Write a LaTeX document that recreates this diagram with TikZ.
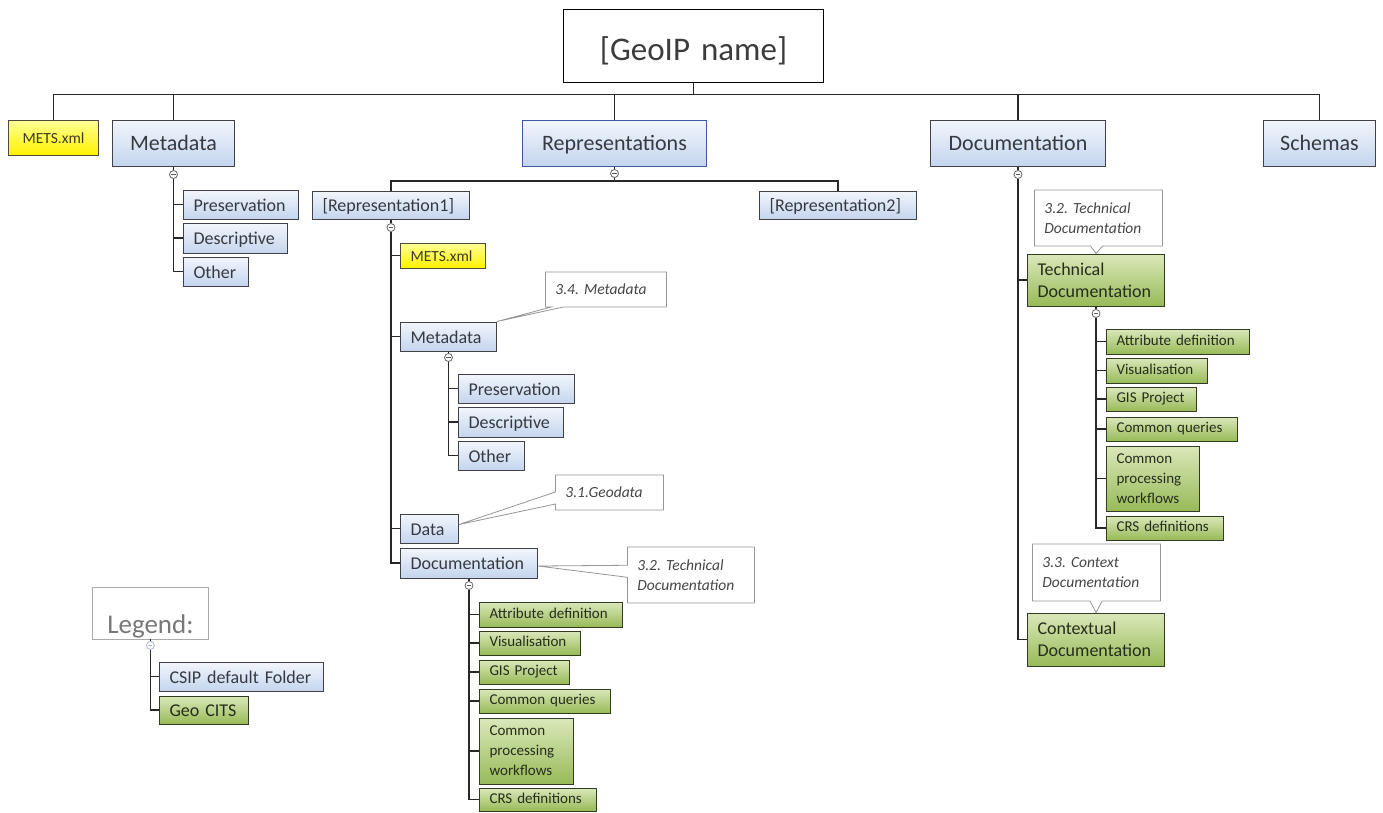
\documentclass[tikz,border=0pt]{standalone}
\usepackage{fontspec}
\setmainfont{Carlito}
\usetikzlibrary{shapes.callouts}
\definecolor{bluetop}{RGB}{242,246,252}
\definecolor{bluebot}{RGB}{196,213,238}
\definecolor{grntop}{RGB}{218,232,186}
\definecolor{grnbot}{RGB}{152,186,88}
\definecolor{yeltop}{RGB}{255,255,150}
\definecolor{yelbot}{RGB}{255,242,0}
\definecolor{bordc}{RGB}{65,65,70}
\definecolor{grnbord}{RGB}{50,60,35}
\definecolor{yelbord}{RGB}{75,75,55}
\definecolor{repbord}{RGB}{60,90,160}
\definecolor{txtc}{RGB}{55,58,65}
\definecolor{grntxt}{RGB}{38,45,28}
\definecolor{yeltxt}{RGB}{60,60,30}
\definecolor{callbord}{RGB}{150,150,150}
\definecolor{calltxt}{RGB}{70,70,70}
\definecolor{linec}{RGB}{40,40,40}
\definecolor{legtxt}{RGB}{120,120,120}
\definecolor{legbord}{RGB}{170,170,170}
\definecolor{roottxt}{RGB}{60,60,60}
\definecolor{collc}{RGB}{100,100,100}
\definecolor{collminus}{RGB}{90,90,90}
\definecolor{legcoll}{RGB}{165,185,220}
\newcommand{\mybox}[7]{%
  \pgfmathsetmacro{\mbw}{#5-#3-20}%
  \pgfmathsetmacro{\mbh}{#6-#4}%
  \pgfmathsetmacro{\mby}{(#4+#6)/2}%
  \node[inner xsep=10pt, inner ysep=0pt, text width=\mbw pt, minimum height=\mbh pt, anchor=west, #1] (#2) at (#3,\mby) {#7};}
\tikzset{
  boxbase/.style={draw=bordc, line width=1pt},
  bbox/.style={boxbase, top color=bluetop, bottom color=bluebot, text=txtc},
  gbox/.style={boxbase, draw=grnbord, top color=grntop, bottom color=grnbot, text=grntxt},
  ybox/.style={boxbase, draw=yelbord, top color=yeltop, bottom color=yelbot, text=yeltxt},
  tlone/.style={text height=17pt, text depth=1.2pt},
  tltwo/.style={text height=14.5pt, text depth=1.5pt},
  tlyel/.style={text height=12.5pt, text depth=1.5pt},
  tlgrn/.style={text height=11pt, text depth=3.4pt},
  lvlone/.style={font=\fontsize{22}{26}\selectfont, align=center, tlone},
  lvltwo/.style={font=\fontsize{18}{22}\selectfont, align=left},
  lvlthree/.style={font=\fontsize{15}{20}\selectfont, align=left},
  callbox/.style={rectangle callout, draw=callbord, fill=white, line width=0.8pt, text=calltxt,
    font=\fontsize{15.5}{20}\selectfont\itshape, align=left, callout pointer width=12pt},
  conn/.style={draw=linec, line width=1.2pt},
  collapse/.style={circle, draw=collc, fill=white, inner sep=0pt,
    minimum size=8pt, line width=0.8pt,
    path picture={\draw[line width=0.8pt,collminus]
      ([xshift=-2.2pt]path picture bounding box.center) -- ([xshift=2.2pt]path picture bounding box.center);}},
  legcollapse/.style={circle, draw=legcoll, fill=white, inner sep=0pt,
    minimum size=8pt, line width=0.8pt,
    path picture={\draw[line width=0.6pt,legcoll]
      ([xshift=-2pt]path picture bounding box.center) -- ([xshift=2pt]path picture bounding box.center);}},
}
\begin{document}
\begin{tikzpicture}[x=1pt,y=-1pt]
\useasboundingbox[fill=white] (0,0) rectangle (1383,812);

% root
\mybox{draw=black, line width=1pt, fill=white, text=roottxt, font=\fontsize{33}{38}\selectfont, align=center, text height=30pt, text depth=1pt}{root}{563}{9}{823}{82}{[GeoIP~name]}

% first level
\mybox{ybox, font=\fontsize{15.5}{20}\selectfont, align=center, tlyel}{mets0}{8}{120}{98}{155}{METS.xml}
\mybox{bbox, lvlone}{meta0}{112}{120}{234}{166}{Metadata}
\mybox{bbox, lvlone, draw=repbord}{reps}{522}{120}{706}{166}{Representations}
\mybox{bbox, lvlone}{doc0}{930}{120}{1105}{166}{Documentation}
\mybox{bbox, lvlone}{schemas}{1263}{120}{1375}{166}{Schemas}

% metadata children
\mybox{bbox, lvltwo, tltwo}{pres0}{183}{190}{298}{219}{Preservation}
\mybox{bbox, lvltwo, tltwo}{desc0}{183}{223}{287}{253}{Descriptive}
\mybox{bbox, lvltwo, tltwo}{oth0}{183}{257}{248}{286}{Other}

% representations
\mybox{bbox, lvltwo, tltwo}{rep1}{312}{191}{469}{219}{[Representation1]}
\mybox{bbox, lvltwo, tltwo}{rep2}{759}{191}{916}{219}{[Representation2]}

\mybox{ybox, font=\fontsize{15.5}{20}\selectfont, align=left, tlyel}{mets1}{400}{243}{485}{268}{METS.xml}
\mybox{bbox, lvltwo, tltwo}{meta1}{400}{322}{496}{351}{Metadata}
\mybox{bbox, lvltwo, tltwo}{pres1}{458}{374}{574}{403}{Preservation}
\mybox{bbox, lvltwo, tltwo}{desc1}{458}{407}{563}{437}{Descriptive}
\mybox{bbox, lvltwo, tltwo}{oth1}{458}{441}{524}{470}{Other}
\mybox{bbox, lvltwo, tltwo}{data1}{400}{514}{458}{543}{Data}
\mybox{bbox, lvltwo, tltwo}{doc1}{400}{548}{537}{578}{Documentation}

\mybox{gbox, lvlthree, tlgrn}{g1a}{479}{602}{622}{627}{Attribute~definition}
\mybox{gbox, lvlthree, tlgrn}{g1b}{479}{631}{580}{655}{Visualisation}
\mybox{gbox, lvlthree, tlgrn}{g1c}{479}{660}{569}{684}{GIS~Project}
\mybox{gbox, lvlthree, tlgrn}{g1d}{479}{689}{610}{713}{Common~queries}
\mybox{gbox, lvlthree}{g1e}{479}{718}{573}{784}{Common\\processing\\workflows}
\mybox{gbox, lvlthree, tlgrn}{g1f}{479}{788}{596}{811}{CRS~definitions}

% right documentation
\mybox{gbox, lvltwo}{tdoc}{1027}{254}{1164}{306}{Technical\\Documentation}
\mybox{gbox, lvltwo}{cdoc}{1027}{613}{1164}{666}{Contextual\\Documentation}
\mybox{gbox, lvlthree, tlgrn}{g2a}{1106}{329}{1249}{354}{Attribute~definition}
\mybox{gbox, lvlthree, tlgrn}{g2b}{1106}{358}{1207}{383}{Visualisation}
\mybox{gbox, lvlthree, tlgrn}{g2c}{1106}{387}{1196}{411}{GIS~Project}
\mybox{gbox, lvlthree, tlgrn}{g2d}{1106}{417}{1237}{441}{Common~queries}
\mybox{gbox, lvlthree}{g2e}{1106}{446}{1199}{511}{Common\\processing\\workflows}
\mybox{gbox, lvlthree, tlgrn}{g2f}{1106}{516}{1223}{540}{CRS~definitions}

% legend
\mybox{draw=legbord, line width=0.8pt, fill=white, text=legtxt, font=\fontsize{27}{32}\selectfont, align=center, text height=41pt, text depth=1pt}{leg}{92}{587}{208}{639}{Legend:}
\mybox{bbox, lvltwo, tltwo}{l1}{159}{662}{323}{691}{CSIP~default~Folder}
\mybox{gbox, lvltwo, tltwo}{l2}{159}{696}{248}{724}{Geo~CITS}

% collapse circles
\node[collapse] (cA) at ([yshift=-8pt]meta0.south) {};
\node[collapse] (cR) at ([yshift=-7pt]reps.south) {};
\node[collapse] (c1) at ([yshift=-8pt]rep1.south) {};
\node[collapse] (cM1) at ([yshift=-6pt]meta1.south) {};
\node[collapse] (cD1) at ([yshift=-7pt]doc1.south) {};
\node[collapse] (cD0) at ([yshift=-8pt]doc0.south) {};
\node[collapse] (cT) at ([yshift=-7pt]tdoc.south) {};
\node[legcollapse] (cL) at ([yshift=-6pt]leg.south) {};

% connectors: top level
\draw[conn] (root.south) -- ++(0,12) coordinate (busR);
\draw[conn] (busR) -| (mets0.north);
\draw[conn] (busR) -| (meta0.north);
\draw[conn] (busR) -| (reps.north);
\draw[conn] (busR) -| (doc0.north);
\draw[conn] (busR) -| (schemas.north);

% metadata
\draw[conn] (meta0.south) -- (cA.north);
\draw[conn] (cA.south) |- (pres0.west);
\draw[conn] (cA.south) |- (desc0.west);
\draw[conn] (cA.south) |- (oth0.west);

% representations
\draw[conn] (reps.south) -- (cR.north);
\draw[conn] (cR.south) -- ++(0,3) coordinate (busP);
\draw[conn] (busP) -| (rep1.north);
\draw[conn] (busP) -| (rep2.north);

\draw[conn] (rep1.south) -- (c1.north);
\draw[conn] (c1.south) |- (mets1.west);
\draw[conn] (c1.south) |- (meta1.west);
\draw[conn] (c1.south) |- (data1.west);
\draw[conn] (c1.south) |- (doc1.west);

\draw[conn] (meta1.south) -- (cM1.north);
\draw[conn] (cM1.south) |- (pres1.west);
\draw[conn] (cM1.south) |- (desc1.west);
\draw[conn] (cM1.south) |- (oth1.west);

\draw[conn] (doc1.south) -- (cD1.north);
\foreach \g in {g1a,g1b,g1c,g1d,g1e,g1f} \draw[conn] (cD1.south) |- (\g.west);

% right documentation
\draw[conn] (doc0.south) -- (cD0.north);
\draw[conn] (cD0.south) |- (tdoc.west);
\draw[conn] (cD0.south) |- (cdoc.west);
\draw[conn] (tdoc.south) -- (cT.north);
\foreach \g in {g2a,g2b,g2c,g2d,g2e,g2f} \draw[conn] (cT.south) |- (\g.west);

% legend
\draw[conn] (leg.south) -- (cL.north);
\draw[conn] (cL.south) |- (l1.west);
\draw[conn] (cL.south) |- (l2.west);

% callouts
\mybox{callbox, callout absolute pointer={(meta1.north east)}}{k1}{545}{272}{666}{307}{3.4.~Metadata}
\mybox{callbox, callout absolute pointer={([yshift=4pt]data1.east)}}{k2}{555}{475}{663}{510}{3.1.Geodata}
\mybox{callbox, callout absolute pointer={([yshift=-3pt]doc1.east)}}{k3}{627}{547}{754}{603}{3.2.~Technical\\Documentation}
\mybox{callbox, callout absolute pointer={(tdoc.north)}}{k4}{1034}{190}{1162}{246}{3.2.~Technical\\Documentation}
\mybox{callbox, callout absolute pointer={(cdoc.north)}}{k5}{1032}{544}{1160}{601}{3.3.~Context\\Documentation}
\end{tikzpicture}
\end{document}
